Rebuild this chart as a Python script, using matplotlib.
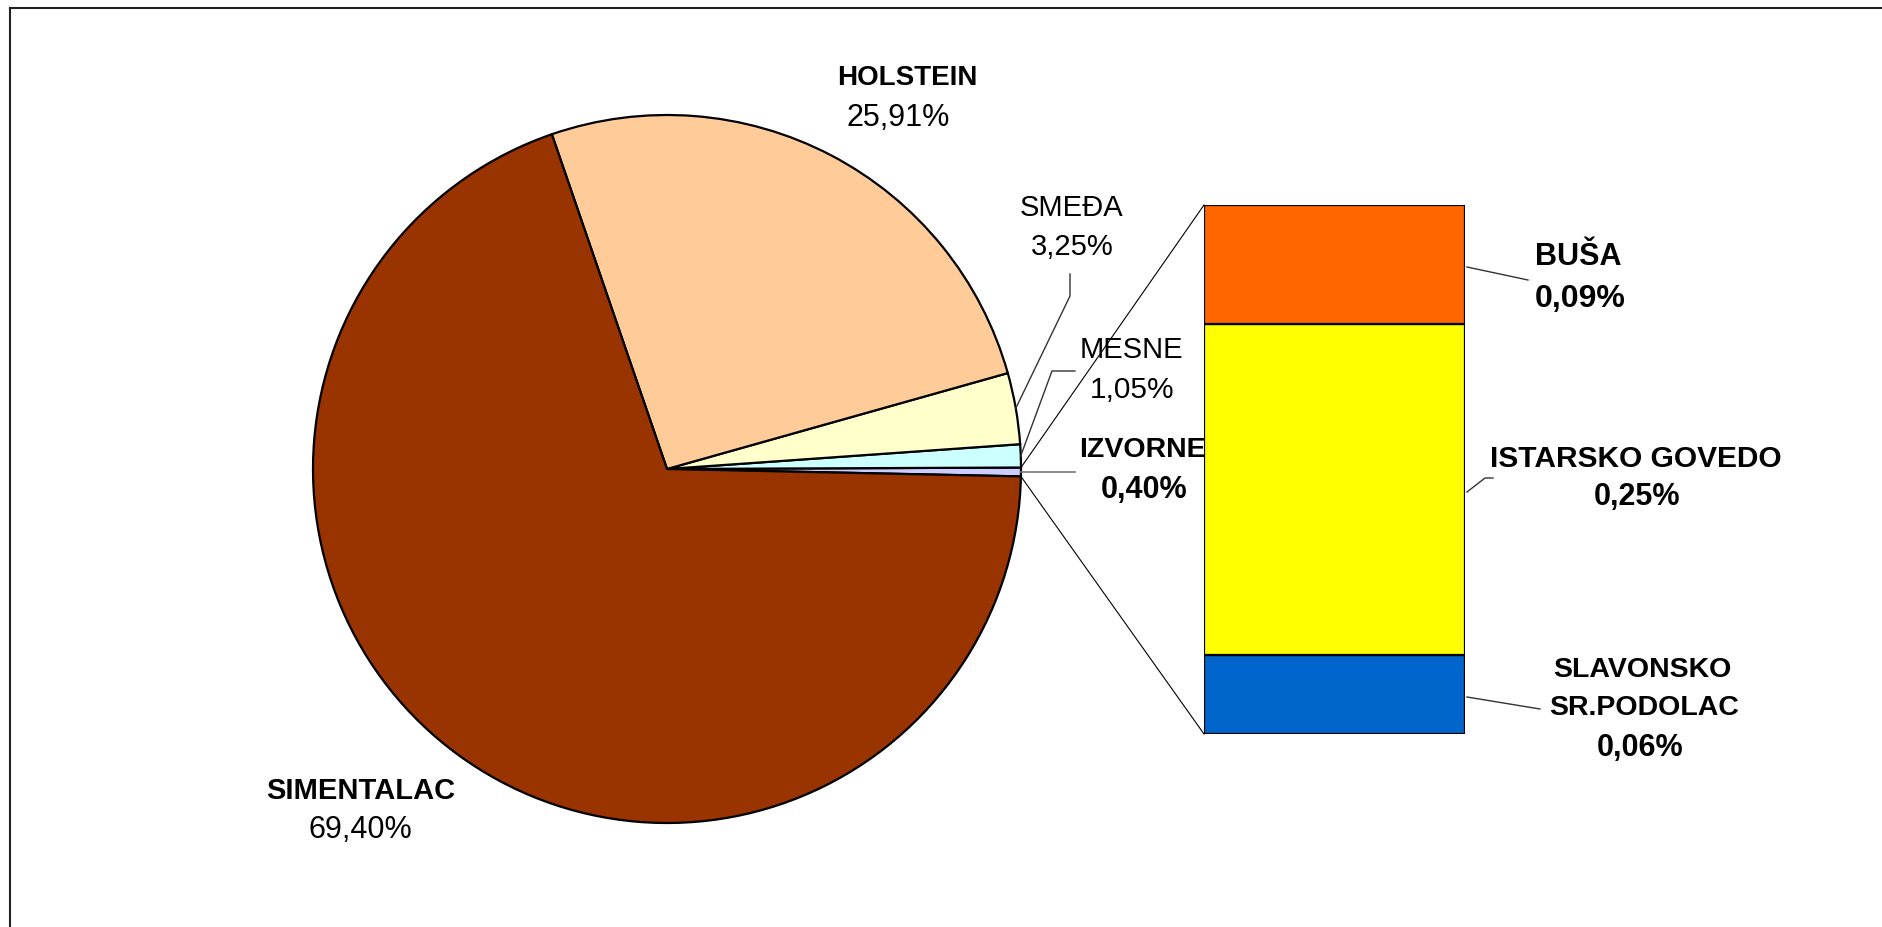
import numpy as np
import matplotlib
matplotlib.use("Agg")
import matplotlib.pyplot as plt
from matplotlib.lines import Line2D

plt.rcParams['font.family'] = ['Liberation Sans', 'DejaVu Sans']

# ---- data ----
pie_labels = ['IZVORNE', 'MESNE', 'SMEĐA', 'HOLSTEIN', 'SIMENTALAC']
pie_values = [0.40, 1.05, 3.25, 25.91, 69.40]
pie_colors = ['#CCCCFF', '#CCFFFF', '#FFFFCC', '#FFCC99', '#993300']

bar_labels = ['SLAVONSKO\nSR.PODOLAC', 'ISTARSKO GOVEDO', 'BUŠA']
bar_values = [0.06, 0.25, 0.09]
bar_colors = ['#0066CC', '#FFFF00', '#FF6600']

W, H = 1883, 928
fig = plt.figure(figsize=(W / 100, H / 100), dpi=100)
fig.patch.set_facecolor('white')

# ---- bar (pie of bar) ----
bx0, bx1, by0, by1 = 1204, 1465, 206, 735
bax = fig.add_axes([bx0 / W, (H - by1) / H, (bx1 - bx0) / W, (by1 - by0) / H])
bax.set_zorder(1)
bottom = 0
for v, c in zip(bar_values, bar_colors):
    bax.bar(0, v, bottom=bottom, width=1, color=c, edgecolor='black', linewidth=1.6)
    bottom += v
bax.set_xlim(-0.5, 0.5)
bax.set_ylim(0, sum(bar_values))
bax.axis('off')

# main axes in pixel-like coordinates (y up)
ax = fig.add_axes([0, 0, 1, 1])
ax.set_zorder(2)
ax.patch.set_visible(False)
cx, cy, R = 667, H - 470, 354
start = -1.2
ax.pie(pie_values, colors=pie_colors, startangle=start, counterclock=True,
       center=(cx, cy), radius=R, frame=True,
       wedgeprops=dict(edgecolor='black', linewidth=1.6))
ax.set_xlim(0, W)
ax.set_ylim(0, H)
ax.set_aspect('auto')
ax.axis('off')

def edge(angle_deg):
    a = np.deg2rad(angle_deg)
    return cx + R * np.cos(a), cy + R * np.sin(a)

# wedge angle ranges
tot = sum(pie_values)
angles = []
a0 = start
for v in pie_values:
    a1 = a0 + 360 * v / tot
    angles.append((a0, a1))
    a0 = a1

# connector lines from "other" wedge to bar corners
ex, ey = edge(angles[0][1])
ax.plot([ex, bx0], [ey, H - by0], color='black', lw=0.8)
ex, ey = edge(angles[0][0])
ax.plot([ex, bx0], [ey, H - by1], color='black', lw=0.8)

def txt(x, y, s, bold=False, size=21):
    ax.text(x, H - y, s, ha='center', va='center', fontsize=size,
            fontweight='bold' if bold else 'normal', color='black', zorder=5)

# pie labels
txt(907, 78, 'HOLSTEIN', True, 20)
txt(898, 118, '25,91%', False, 22)
txt(1072, 208, 'SMEĐA', False, 21)
txt(1072, 247, '3,25%', False, 21)
txt(1131, 350, 'MESNE', False, 21)
txt(1132, 390, '1,05%', False, 21.5)
txt(1142, 450, 'IZVORNE', True, 20.5)
txt(1144, 490, '0,40%', True, 22)
txt(361, 791, 'SIMENTALAC', True, 21)
txt(360, 830, '69,40%', False, 22)

# bar labels
txt(1578, 257, 'BUŠA', True, 22)
txt(1580, 299, '0,09%', True, 23)
txt(1636, 459, 'ISTARSKO GOVEDO', True, 21.5)
txt(1637, 497, '0,25%', True, 22)
txt(1642, 670, 'SLAVONSKO', True, 20.5)
txt(1644, 708, 'SR.PODOLAC', True, 20.5)
txt(1640, 748, '0,06%', True, 22)

lc = '#333333'
# leader lines for pie labels
mid = lambda i: (angles[i][0] + angles[i][1]) / 2
ex, ey = edge(mid(2))
ax.plot([1070, 1070, ex], [H - 275, H - 297, ey], color=lc, lw=1)
ex, ey = edge(mid(1))
ax.plot([1075, 1052, ex], [H - 372, H - 372, ey], color=lc, lw=1)
ex, ey = edge(mid(0))
ax.plot([1075, ex], [ey, ey], color='#777777', lw=1.2)

# leader lines for bar labels
ax.plot([bx1 + 2, 1528], [H - 268, H - 281], color=lc, lw=1)
ax.plot([bx1 + 2, 1485, 1493], [H - 493, H - 479, H - 479], color=lc, lw=1)
ax.plot([bx1 + 2, 1540], [H - 698, H - 710], color=lc, lw=1)

# chart border (top and left visible)
fig.add_artist(Line2D([10 / W, 1], [1 - 9 / H, 1 - 9 / H], color='#222222', lw=1.5, transform=fig.transFigure))
fig.add_artist(Line2D([10 / W, 10 / W], [0, 1 - 9 / H], color='#222222', lw=1.5, transform=fig.transFigure))

fig.savefig('out.png', dpi=100, facecolor='white')
